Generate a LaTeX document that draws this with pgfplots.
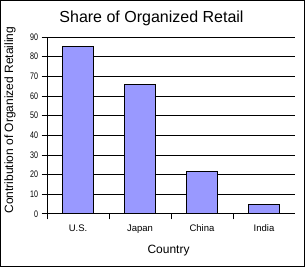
\documentclass[border=0pt]{standalone}
\usepackage{fontspec}
\setmainfont{Liberation Sans}
\newfontfamily\narrowfont[FakeStretch=0.75]{Liberation Sans}
\usepackage{pgfplots}
\pgfplotsset{compat=1.18}
\definecolor{barblue}{HTML}{9999FF}
\begin{document}
\begin{tikzpicture}[x=1pt,y=1pt]
\draw[line width=1pt] (0.5,0.5) rectangle (304.5,266.5);
\node[anchor=base, font=\fontsize{16}{16}\selectfont] at (151.5,244.3) {Share of Organized Retail};
\begin{axis}[
  at={(47pt,53pt)}, anchor=south west,
  scale only axis, width=248pt, height=177pt,
  xmin=0, xmax=4, ymin=0, ymax=90,
  axis x line=bottom, axis y line=left,
  axis line style={-, line width=1pt},
  every tick/.style={black, line width=1pt},
  tick align=outside,
  major tick length=5.5pt,
  xtick={0,1,2,3},
  xticklabels={U.S.,Japan,China,India},
  xticklabel style={anchor=base, xshift=31pt, yshift=-12pt, font=\fontsize{9.5}{9.5}\selectfont},
  ytick={0,10,...,90},
  /pgf/number format/assume math mode=true,
  yticklabel style={font=\narrowfont\fontsize{9.5}{9.5}\selectfont},
  ymajorgrids, grid style={black, line width=1pt},
  xlabel={Country},
  xlabel style={at={(axis description cs:0.49,0)}, anchor=base, yshift=-40pt, font=\fontsize{12}{12}\selectfont},
  ylabel={Contribution of Organized Retailing},
  ylabel style={at={(axis description cs:-0.137,0.53)}, anchor=base, font=\fontsize{12}{12}\selectfont},
  ybar, bar width=31pt,
]
\addplot[fill=barblue, draw=black, line width=1pt] coordinates {(0.5,85) (1.5,66) (2.5,21.8) (3.5,4.6)};
\end{axis}
\end{tikzpicture}
\end{document}
